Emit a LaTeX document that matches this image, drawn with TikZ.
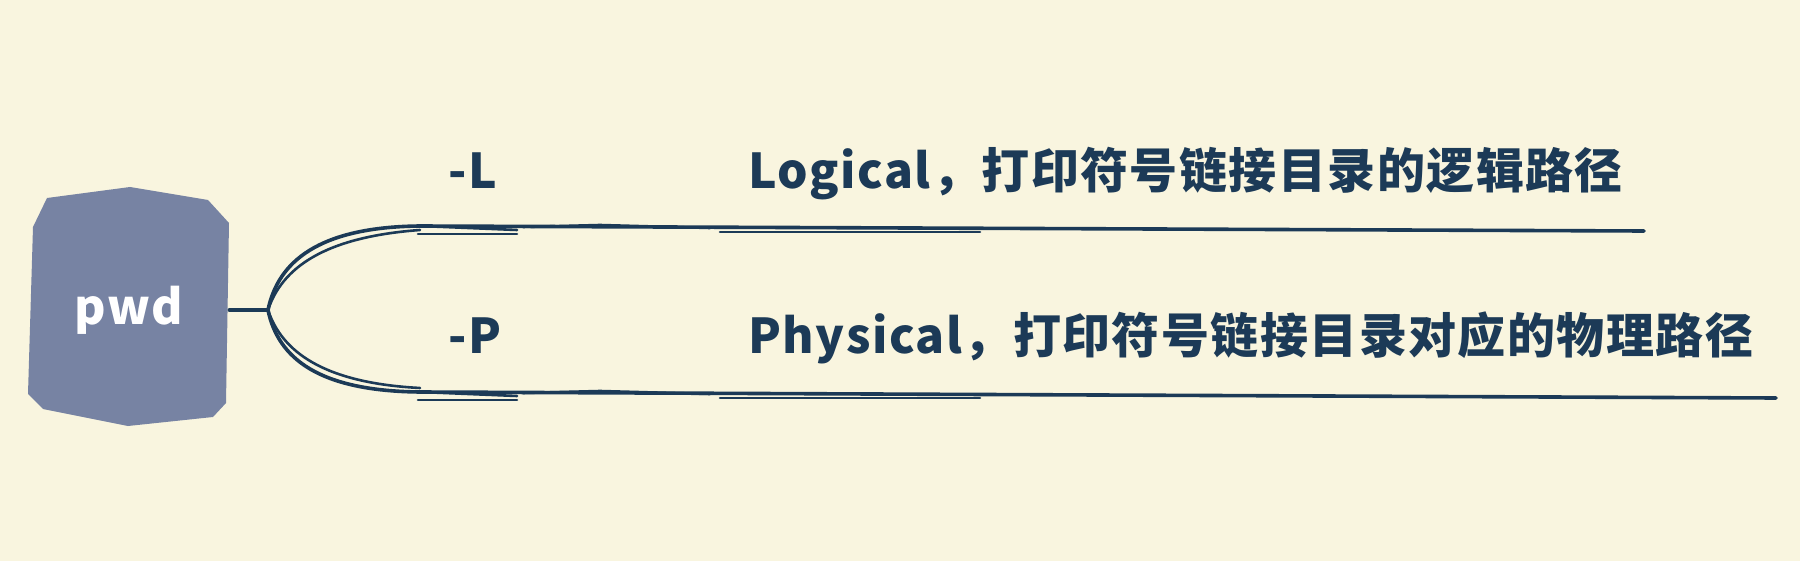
\documentclass[tikz,border=0pt]{standalone}
\usepackage{fontspec}
\setmainfont{Noto Sans CJK SC}
\newfontfamily\labelfont{Noto Sans CJK SC}[LetterSpace=3]
\usetikzlibrary{calc}

\definecolor{paper}{HTML}{F9F5DF}
\definecolor{slate}{HTML}{7783A3}
\definecolor{ink}{HTML}{1C3A57}

\begin{document}
\begin{tikzpicture}[
    x=0.5pt, y=-0.5pt,
    keybox/.style={minimum width=100pt, minimum height=118pt, inner sep=0pt, text=white, font=\labelfont\bfseries\fontsize{24}{28}\selectfont},
    opt/.style={anchor=base west, inner sep=0pt, text=ink, font=\labelfont\bfseries\fontsize{24}{28}\selectfont},
    desc/.style={opt},
    branch/.style={draw=ink, line width=1.8pt, line cap=round},
    sketch/.style={draw=ink, line width=1.3pt, line cap=round}
]
% paper
\fill[paper] (0,0) rectangle (1800,561);
\useasboundingbox (0,0) rectangle (1800,561);

% Nodes
\fill[slate] (47,198) -- (130,187) -- (208,200) -- (229,223) -- (226,403) -- (213,417)
  -- (128,426) -- (43,409) -- (28,394) -- (33,227) -- cycle;
\node[keybox] (pwd) at (129,310) {pwd};
\coordinate (hub) at (268,310);

\node[opt] (optL) at (448,189) {-L};
\node[opt] (optP) at (448,354) {-P};
\node[desc] (descL) at (748,189) {Logical，打印符号链接目录的逻辑路径};
\node[desc] (descP) at (748,354) {Physical，打印符号链接目录对应的物理路径};

\coordinate (startL) at (420,226);
\coordinate (endL) at (1644,231);
\coordinate (startP) at (420,392);
\coordinate (endP) at (1776,398);

% Connections
\draw[branch] (pwd.east) -- (hub);
\draw[branch] (hub) .. controls (278,262) and (318,227) .. (startL) -- (endL);
\draw[branch] (hub) .. controls (278,358) and (318,391) .. (startP) -- (endP);

% hand-drawn doubling
\foreach \s/\d in {startL/1,startP/-1}{
  \draw[sketch] (hub) .. controls ($(hub)+(14,{-\d*42})$) and ($(hub)+(56,{-\d*73})$) .. ($(\s)+(0,{\d*4})$);
  \draw[sketch] ($(\s)+(0,0)$) -- ($(\s)+(97,4)$);
  \draw[sketch] ($(\s)+(-2,8)$) -- ($(\s)+(97,8)$);
  \draw[sketch] ($(\s)+(103,1)$) -- ($(\s)+(180,-1)$) -- ($(\s)+(290,2)$);
  \draw[sketch] ($(\s)+(300,6)$) -- ($(\s)+(560,6)$);
}
\end{tikzpicture}
\end{document}
